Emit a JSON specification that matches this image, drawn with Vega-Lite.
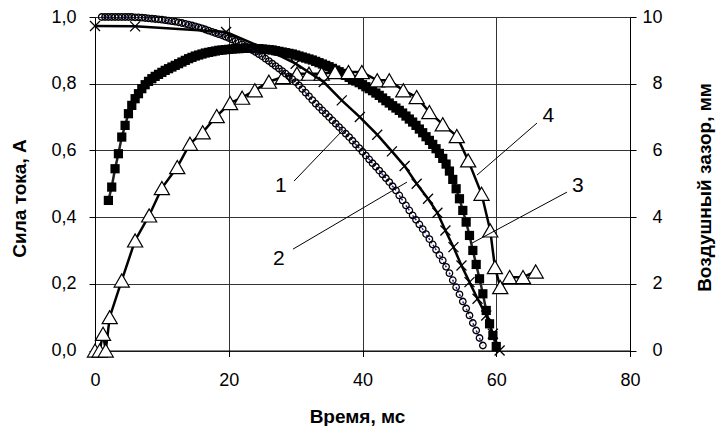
{
  "$schema": "https://vega.github.io/schema/vega-lite/v6.json",
  "width": 535,
  "height": 333.5,
  "autosize": "none",
  "padding": {"left": 95, "top": 17, "right": 86, "bottom": 75.5},
  "background": "white",
  "config": {"view": {"stroke": null}, "font": "Liberation Sans"},
  "datasets": {
    "sq": [
      {"t":2.0,"I":0.45},{"t":2.5,"I":0.49},{"t":3.0,"I":0.545},{"t":3.5,"I":0.59},{"t":4.0,"I":0.64},{"t":4.5,"I":0.675},{"t":5.0,"I":0.71},{"t":5.5,"I":0.735},{"t":6.0,"I":0.755},{"t":6.5,"I":0.77},{"t":7.0,"I":0.785},{"t":7.5,"I":0.797},{"t":8.0,"I":0.807},{"t":8.5,"I":0.815},{"t":9.0,"I":0.822},{"t":9.5,"I":0.828},{"t":10,"I":0.834},{"t":10.5,"I":0.84},{"t":11,"I":0.845},{"t":11.5,"I":0.85},{"t":12,"I":0.855},{"t":12.5,"I":0.86},{"t":13,"I":0.865},{"t":13.5,"I":0.87},{"t":14,"I":0.875},{"t":14.5,"I":0.879},{"t":15,"I":0.883},{"t":15.5,"I":0.886},{"t":16,"I":0.889},{"t":16.5,"I":0.892},{"t":17,"I":0.894},{"t":17.5,"I":0.896},{"t":18,"I":0.898},{"t":18.5,"I":0.9},{"t":19,"I":0.901},{"t":19.5,"I":0.902},{"t":20,"I":0.903},{"t":20.5,"I":0.904},{"t":21,"I":0.905},{"t":21.5,"I":0.905},{"t":22,"I":0.906},{"t":22.5,"I":0.906},{"t":23,"I":0.906},{"t":23.5,"I":0.906},{"t":24,"I":0.905},{"t":24.5,"I":0.905},{"t":25,"I":0.904},{"t":25.5,"I":0.903},{"t":26,"I":0.902},{"t":26.5,"I":0.901},{"t":27,"I":0.899},{"t":27.5,"I":0.897},{"t":28,"I":0.895},{"t":28.5,"I":0.893},{"t":29,"I":0.891},{"t":29.5,"I":0.889},{"t":30,"I":0.886},{"t":30.5,"I":0.883},{"t":31,"I":0.88},{"t":31.5,"I":0.877},{"t":32,"I":0.874},{"t":32.5,"I":0.871},{"t":33,"I":0.867},{"t":33.5,"I":0.863},{"t":34,"I":0.859},{"t":34.5,"I":0.855},{"t":35,"I":0.851},{"t":35.5,"I":0.846},{"t":36,"I":0.841},{"t":36.5,"I":0.836},{"t":37,"I":0.831},{"t":37.5,"I":0.825},{"t":38,"I":0.819},{"t":38.5,"I":0.813},{"t":39,"I":0.808},{"t":39.5,"I":0.803},{"t":40,"I":0.797},{"t":40.5,"I":0.791},{"t":41,"I":0.785},{"t":41.5,"I":0.779},{"t":42,"I":0.772},{"t":42.5,"I":0.765},{"t":43,"I":0.757},{"t":43.5,"I":0.749},{"t":44,"I":0.742},{"t":44.5,"I":0.734},{"t":45,"I":0.727},{"t":45.5,"I":0.72},{"t":46,"I":0.712},{"t":46.5,"I":0.703},{"t":47,"I":0.694},{"t":47.5,"I":0.685},{"t":48,"I":0.675},{"t":48.5,"I":0.664},{"t":49,"I":0.653},{"t":49.5,"I":0.641},{"t":50,"I":0.63},{"t":50.5,"I":0.618},{"t":51,"I":0.605},{"t":51.5,"I":0.591},{"t":52,"I":0.576},{"t":52.5,"I":0.559},{"t":53,"I":0.538},{"t":53.5,"I":0.513},{"t":54,"I":0.485},{"t":54.5,"I":0.455},{"t":55,"I":0.42},{"t":55.5,"I":0.385},{"t":56,"I":0.345},{"t":56.5,"I":0.3},{"t":57,"I":0.258},{"t":57.5,"I":0.215},{"t":58,"I":0.17},{"t":58.5,"I":0.12},{"t":59,"I":0.08},{"t":59.5,"I":0.045},{"t":60,"I":0.012}
    ],
    "tri": [
      {"t":0,"I":0},{"t":0.7,"I":0},{"t":1.2,"I":0.05},{"t":1.6,"I":0},{"t":2.2,"I":0.1},{"t":4.0,"I":0.21},{"t":6.0,"I":0.33},{"t":8.1,"I":0.405},{"t":10.0,"I":0.487},{"t":12.3,"I":0.55},{"t":14.2,"I":0.62},{"t":16.1,"I":0.654},{"t":18.2,"I":0.703},{"t":20.2,"I":0.742},{"t":22.0,"I":0.758},{"t":23.9,"I":0.78},{"t":26.0,"I":0.806},{"t":28.1,"I":0.82},{"t":30.2,"I":0.83},{"t":32.0,"I":0.83},{"t":33.9,"I":0.83},{"t":35.9,"I":0.835},{"t":37.9,"I":0.835},{"t":39.9,"I":0.835},{"t":42.2,"I":0.81},{"t":44.0,"I":0.81},{"t":46.1,"I":0.78},{"t":48.1,"I":0.76},{"t":50.0,"I":0.715},{"t":52.0,"I":0.678},{"t":54.1,"I":0.643},{"t":55.8,"I":0.57},{"t":57.8,"I":0.47},{"t":59.1,"I":0.36},{"t":59.8,"I":0.25},{"t":60.6,"I":0.19},{"t":62.0,"I":0.22},{"t":64.0,"I":0.22},{"t":65.9,"I":0.237}
    ],
    "cr": [
      {"t":0,"mm":9.73},{"t":6,"mm":9.72},{"t":19.6,"mm":9.55},{"t":26,"mm":9.0},{"t":30,"mm":8.6},{"t":34.2,"mm":8.05},{"t":36.9,"mm":7.5},{"t":39.6,"mm":7.0},{"t":42.2,"mm":6.47},{"t":44.4,"mm":5.97},{"t":46.3,"mm":5.53},{"t":48.1,"mm":5.0},{"t":49.8,"mm":4.55},{"t":51.2,"mm":4.13},{"t":52.4,"mm":3.6},{"t":53.6,"mm":3.1},{"t":54.8,"mm":2.55},{"t":56.0,"mm":2.05},{"t":57.2,"mm":1.55},{"t":58.5,"mm":1.05},{"t":59.5,"mm":0.5},{"t":60.5,"mm":0.0}
    ],
    "ci": [
      {"t":1.0,"mm":10.0},{"t":1.5,"mm":10.0},{"t":2,"mm":10.0},{"t":2.5,"mm":10.0},{"t":3,"mm":10.0},{"t":3.5,"mm":10.0},{"t":4,"mm":10.0},{"t":4.5,"mm":10.0},{"t":5,"mm":10.0},{"t":5.5,"mm":10.0},{"t":6,"mm":9.99},{"t":6.5,"mm":9.99},{"t":7,"mm":9.98},{"t":7.5,"mm":9.97},{"t":8,"mm":9.96},{"t":8.5,"mm":9.95},{"t":9,"mm":9.94},{"t":9.5,"mm":9.93},{"t":10,"mm":9.92},{"t":10.5,"mm":9.905},{"t":11,"mm":9.89},{"t":11.5,"mm":9.875},{"t":12,"mm":9.86},{"t":12.5,"mm":9.84},{"t":13,"mm":9.82},{"t":13.5,"mm":9.795},{"t":14,"mm":9.77},{"t":14.5,"mm":9.745},{"t":15,"mm":9.72},{"t":15.5,"mm":9.69},{"t":16,"mm":9.66},{"t":16.5,"mm":9.625},{"t":17,"mm":9.59},{"t":17.5,"mm":9.555},{"t":18,"mm":9.52},{"t":18.5,"mm":9.485},{"t":19,"mm":9.45},{"t":19.5,"mm":9.41},{"t":20,"mm":9.37},{"t":20.5,"mm":9.325},{"t":21,"mm":9.28},{"t":21.5,"mm":9.23},{"t":22,"mm":9.18},{"t":22.5,"mm":9.125},{"t":23,"mm":9.07},{"t":23.5,"mm":9.01},{"t":24,"mm":8.95},{"t":24.5,"mm":8.885},{"t":25,"mm":8.82},{"t":25.5,"mm":8.75},{"t":26,"mm":8.68},{"t":26.5,"mm":8.605},{"t":27,"mm":8.53},{"t":27.5,"mm":8.455},{"t":28,"mm":8.38},{"t":28.5,"mm":8.3},{"t":29,"mm":8.22},{"t":29.5,"mm":8.135},{"t":30,"mm":8.05},{"t":30.5,"mm":7.95},{"t":31,"mm":7.84},{"t":31.5,"mm":7.73},{"t":32,"mm":7.62},{"t":32.5,"mm":7.51},{"t":33,"mm":7.4},{"t":33.5,"mm":7.3},{"t":34,"mm":7.2},{"t":34.5,"mm":7.1},{"t":35,"mm":7.0},{"t":35.5,"mm":6.9},{"t":36,"mm":6.8},{"t":36.5,"mm":6.7},{"t":37,"mm":6.6},{"t":37.5,"mm":6.5},{"t":38,"mm":6.4},{"t":38.5,"mm":6.29},{"t":39,"mm":6.18},{"t":39.5,"mm":6.07},{"t":40,"mm":5.96},{"t":40.5,"mm":5.845},{"t":41,"mm":5.73},{"t":41.5,"mm":5.615},{"t":42,"mm":5.51},{"t":42.5,"mm":5.395},{"t":43,"mm":5.28},{"t":43.5,"mm":5.165},{"t":44,"mm":5.05},{"t":44.5,"mm":4.925},{"t":45,"mm":4.8},{"t":45.5,"mm":4.65},{"t":46,"mm":4.5},{"t":46.5,"mm":4.35},{"t":47,"mm":4.2},{"t":47.5,"mm":4.05},{"t":48,"mm":3.92},{"t":48.5,"mm":3.78},{"t":49,"mm":3.64},{"t":49.5,"mm":3.49},{"t":50,"mm":3.34},{"t":50.5,"mm":3.18},{"t":51,"mm":3.02},{"t":51.5,"mm":2.86},{"t":52,"mm":2.7},{"t":52.5,"mm":2.51},{"t":53,"mm":2.32},{"t":53.5,"mm":2.11},{"t":54,"mm":1.9},{"t":54.5,"mm":1.685},{"t":55,"mm":1.47},{"t":55.5,"mm":1.26},{"t":56,"mm":1.05},{"t":56.5,"mm":0.825},{"t":57,"mm":0.6},{"t":57.5,"mm":0.375},{"t":58,"mm":0.15}
    ],
    "lbl": [
      {"t":27.8,"I":0.496,"txt":"1"},{"t":27.5,"I":0.277,"txt":"2"},{"t":72.2,"I":0.496,"txt":"3"},{"t":67.8,"I":0.705,"txt":"4"}
    ],
    "ldr": [
      {"t":29.76,"I":0.508,"t2":36.93,"I2":0.658},
      {"t":29.61,"I":0.304,"t2":46.65,"I2":0.505},
      {"t":70.58,"I":0.475,"t2":56.37,"I2":0.322},
      {"t":66.09,"I":0.682,"t2":57.12,"I2":0.526}
    ]
  },
  "layer": [
    {
      "layer": [
        {
          "data": {"name": "sq"},
          "mark": {"type": "line", "color": "#222222", "strokeWidth": 2.5},
          "encoding": {
            "x": {"field": "t", "type": "quantitative", "scale": {"domain": [0, 80], "nice": false},
              "axis": {"values": [0, 20, 40, 60, 80], "grid": true, "gridColor": "#333333", "gridWidth": 1, "gridOpacity": 1,
                "domainColor": "#000000", "tickColor": "#000000", "tickSize": 6, "labelFontSize": 18, "labelColor": "#000000",
                "labelPadding": 15, "labelFont": "Liberation Sans", "labelFlush": false,
                "title": "Время, мс", "titleFontSize": 19, "titleFontWeight": "bold", "titleColor": "#000000", "titleFont": "Liberation Sans",
                "titleBaseline": "alphabetic", "titleY": 71.5, "titleX": 262}},
            "y": {"field": "I", "type": "quantitative", "scale": {"domain": [0, 1], "nice": false},
              "axis": {"values": [0, 0.2, 0.4, 0.6, 0.8, 1.0], "grid": true, "gridColor": "#333333", "gridWidth": 1, "gridOpacity": 1,
                "domainColor": "#000000", "tickColor": "#000000", "tickSize": 6, "labelFontSize": 18, "labelColor": "#000000",
                "labelPadding": 13, "labelFont": "Liberation Sans", "labelFlush": false,
                "labelExpr": "replace(format(datum.value, '.1f'), '.', ',')",
                "title": "Сила тока, А", "titleFontSize": 19, "titleFontWeight": "bold", "titleColor": "#000000", "titleFont": "Liberation Sans",
                "titleAngle": -90, "titleBaseline": "alphabetic", "titleX": -70, "titleY": 181}}
          }
        },
        {
          "data": {"name": "sq"},
          "mark": {"type": "point", "shape": "square", "filled": true, "color": "#000000", "size": 85, "opacity": 1},
          "encoding": {"x": {"field": "t", "type": "quantitative"}, "y": {"field": "I", "type": "quantitative"}}
        },
        {
          "data": {"name": "tri"},
          "mark": {"type": "line", "color": "#000000", "strokeWidth": 2.5},
          "encoding": {"x": {"field": "t", "type": "quantitative"}, "y": {"field": "I", "type": "quantitative"}}
        },
        {
          "data": {"name": "tri"},
          "mark": {"type": "point", "shape": "triangle-up", "filled": true, "fill": "#ffffff", "stroke": "#000000", "strokeWidth": 1.2, "size": 230, "opacity": 1},
          "encoding": {"x": {"field": "t", "type": "quantitative"}, "y": {"field": "I", "type": "quantitative"}}
        },
        {
          "data": {"name": "ldr"},
          "mark": {"type": "rule", "color": "#000000", "strokeWidth": 1},
          "encoding": {"x": {"field": "t", "type": "quantitative"}, "y": {"field": "I", "type": "quantitative"},
            "x2": {"field": "t2"}, "y2": {"field": "I2"}}
        },
        {
          "data": {"name": "lbl"},
          "mark": {"type": "text", "fontSize": 21, "font": "Liberation Sans", "color": "#000000", "align": "center", "baseline": "middle", "dy": 1},
          "encoding": {"x": {"field": "t", "type": "quantitative"}, "y": {"field": "I", "type": "quantitative"}, "text": {"field": "txt"}}
        }
      ]
    },
    {
      "layer": [
        {
          "data": {"name": "cr"},
          "mark": {"type": "line", "color": "#000000", "strokeWidth": 2.5},
          "encoding": {
            "x": {"field": "t", "type": "quantitative"},
            "y": {"field": "mm", "type": "quantitative", "scale": {"domain": [0, 10], "nice": false},
              "axis": {"orient": "right", "values": [0, 2, 4, 6, 8, 10], "grid": false,
                "domainColor": "#000000", "tickColor": "#000000", "tickSize": 6, "labelFontSize": 18, "labelColor": "#000000",
                "labelPadding": 26, "labelAlign": "right", "labelFont": "Liberation Sans", "labelFlush": false,
                "title": "Воздушный зазор, мм", "titleFontSize": 19, "titleFontWeight": "bold", "titleColor": "#000000", "titleFont": "Liberation Sans",
                "titleAngle": -90, "titleBaseline": "alphabetic", "titleX": 80, "titleY": 170}}
          }
        },
        {
          "data": {"name": "cr"},
          "mark": {"type": "point", "shape": "M-1,-1L1,1M-1,1L1,-1", "filled": false, "stroke": "#000000", "strokeWidth": 1.3, "size": 100, "opacity": 1},
          "encoding": {"x": {"field": "t", "type": "quantitative"}, "y": {"field": "mm", "type": "quantitative"}}
        },
        {
          "data": {"name": "ci"},
          "mark": {"type": "line", "color": "#1f1f9a", "strokeWidth": 1.5, "strokeDash": [2, 2]},
          "encoding": {"x": {"field": "t", "type": "quantitative"}, "y": {"field": "mm", "type": "quantitative"}}
        },
        {
          "data": {"name": "ci"},
          "mark": {"type": "point", "shape": "circle", "filled": false, "stroke": "#000000", "strokeWidth": 1.3, "size": 42, "opacity": 1},
          "encoding": {"x": {"field": "t", "type": "quantitative"}, "y": {"field": "mm", "type": "quantitative"}}
        }
      ]
    }
  ],
  "resolve": {"scale": {"y": "independent"}}
}
